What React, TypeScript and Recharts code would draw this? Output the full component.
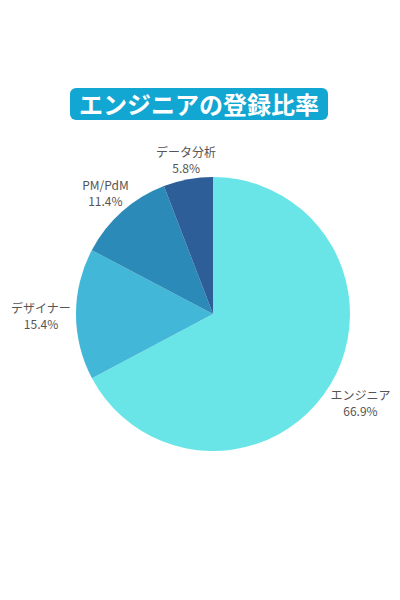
import React from "react";
import { PieChart, Pie, Cell } from "recharts";

const categories = ["エンジニア", "デザイナー", "PM/PdM", "データ分析"];
const shares = [66.9, 15.4, 11.4, 5.8];
const colors = ["#69e5e8", "#42b7d7", "#2b8ab8", "#2d5e98"];

const data = categories.map((name, i) => ({ name, value: shares[i] }));

const RAD = Math.PI / 180;
const FONT = "'Noto Sans CJK JP', 'Noto Sans', sans-serif";

const renderLabel = (props: any) => {
  const { cx, cy, midAngle, outerRadius, name, value } = props;
  const ux = Math.cos(-midAngle * RAD);
  const uy = Math.sin(-midAngle * RAD);
  const d = outerRadius + 37 - 16 * uy * uy;
  const x = cx + d * ux + 2;
  const y = cy + d * uy + 3;
  return (
    <g>
      <text x={x} y={y - 4} textAnchor="middle" fill="#555555" fontSize={12} fontFamily={FONT}>
        {name}
      </text>
      <text x={x} y={y + 12} textAnchor="middle" fill="#555555" fontSize={12} fontFamily={FONT}>
        {`${value.toFixed(1)}%`}
      </text>
    </g>
  );
};

export default function App() {
  return (
    <div style={{ position: "absolute", left: 0, top: 0, width: 400, height: 600, background: "#ffffff" }}>
      <div
        style={{
          position: "absolute",
          left: 70,
          top: 88,
          width: 258,
          height: 32,
          background: "#12a6d2",
          borderRadius: 6,
          color: "#ffffff",
          fontWeight: 700,
          fontSize: 24,
          lineHeight: "32px",
          textAlign: "center",
          fontFamily: FONT,
        }}
      >
        エンジニアの登録比率
      </div>
      <PieChart
        width={400}
        height={600}
        margin={{ top: 0, right: 0, bottom: 0, left: 0 }}
        style={{ position: "absolute", left: 0, top: 0 }}
      >
        <Pie
          data={data}
          dataKey="value"
          nameKey="name"
          cx={213}
          cy={314}
          outerRadius={137}
          startAngle={90}
          endAngle={-270}
          stroke="none"
          label={renderLabel}
          labelLine={false}
          isAnimationActive={false}
        >
          {data.map((d, i) => (
            <Cell key={d.name} fill={colors[i]} />
          ))}
        </Pie>
      </PieChart>
    </div>
  );
}
